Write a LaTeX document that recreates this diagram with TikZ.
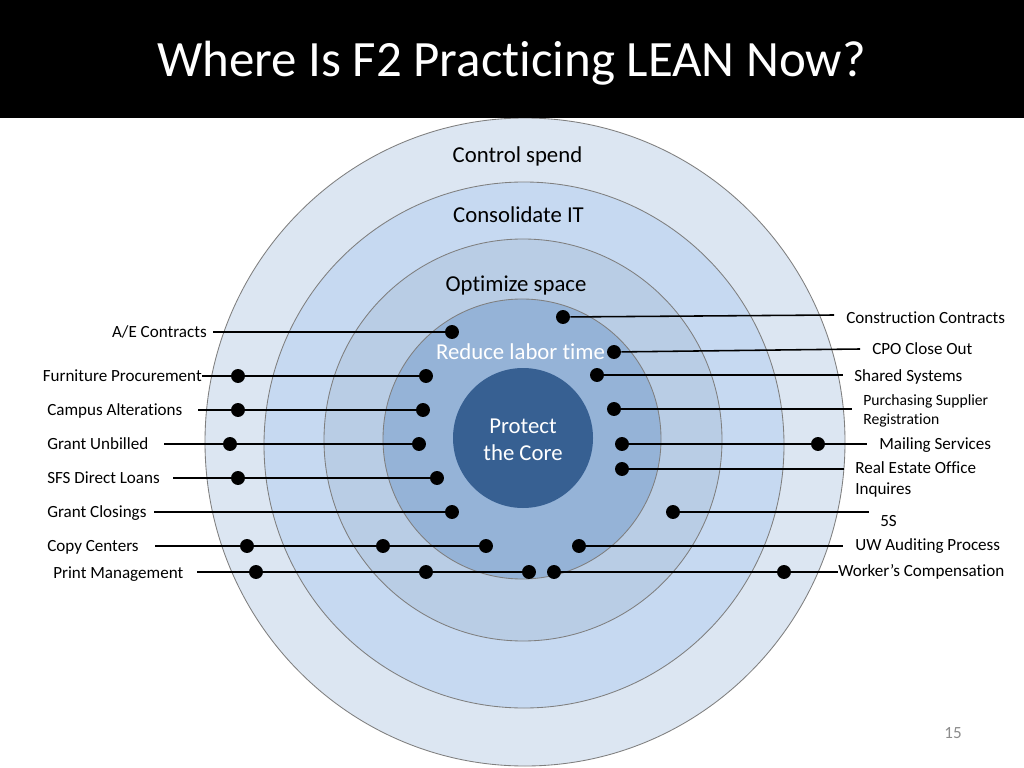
\documentclass[tikz,border=0pt]{standalone}
\usepackage{fontspec}
\setmainfont{Carlito}[Ligatures=CommonOff]
\definecolor{ringA}{HTML}{DCE6F2}
\definecolor{ringB}{HTML}{C6D9F1}
\definecolor{ringC}{HTML}{B9CDE5}
\definecolor{ringD}{HTML}{95B3D7}
\definecolor{coreC}{HTML}{376092}
\definecolor{ringLine}{HTML}{7F7F7F}
\definecolor{pageNum}{HTML}{8C8C8C}
\begin{document}
\begin{tikzpicture}[x=0.703125pt,y=-0.703125pt,
  ring/.style={draw=ringLine,line width=0.6pt},
  dot/.style={circle,fill=black,inner sep=0pt,minimum size=9.8pt},
  conn/.style={draw=black,line width=1.1pt},
  lbl/.style={inner sep=0pt,font=\fontsize{12}{14}\selectfont},
  smlbl/.style={inner sep=0pt,font=\fontsize{11}{13}\selectfont},
  ringlbl/.style={inner sep=0pt,font=\fontsize{16}{19}\selectfont},
  corelbl/.style={inner sep=0pt,font=\fontsize{16}{19}\selectfont,text=white}]
\useasboundingbox (0,0) rectangle (1024,768);
\fill[white] (0,0) rectangle (1024,768);
% rings
\draw[ring,fill=ringA] (525,442) ellipse [x radius=320,y radius=324];
\draw[ring,fill=ringB] (524,445) ellipse [x radius=260,y radius=263];
\draw[ring,fill=ringC] (523,440) ellipse [x radius=199,y radius=201];
\draw[ring,fill=ringD] (522,439) ellipse [x radius=139,y radius=140];
\fill[coreC] (523,438) circle [radius=70];
% header
\fill[black] (0,0) rectangle (1024,118);
\node[inner sep=0pt,anchor=base,text=white,font=\fontsize{35.8}{40}\selectfont] (title) at (511.5,77) {Where Is F2 Practicing LEAN Now?};
% ring labels
\node[ringlbl,anchor=base] (l1) at (517.5,163) {Control spend};
\node[ringlbl,anchor=base] (l2) at (518.5,223) {Consolidate IT};
\node[ringlbl,anchor=base] (l3) at (516,291) {Optimize space};
\node[ringlbl,anchor=base,text=white] (l4) at (520.5,359) {Reduce labor time};
\node[corelbl,anchor=base] (l5a) at (523,433) {Protect};
\node[corelbl,anchor=base] (l5b) at (523,460) {the Core};
% left labels
\node[lbl,anchor=base east] (tAE) at (207,337) {A/E Contracts};
\node[lbl,anchor=base east] (tFP) at (202,381) {Furniture Procurement};
\node[lbl,anchor=base west] (tCA) at (47,415) {Campus Alterations};
\node[lbl,anchor=base west] (tGU) at (47,449) {Grant Unbilled};
\node[lbl,anchor=base west] (tSFS) at (47,483) {SFS Direct Loans};
\node[lbl,anchor=base west] (tGC) at (47,517) {Grant Closings};
\node[lbl,anchor=base west] (tCC) at (47,551) {Copy Centers};
\node[lbl,anchor=base west] (tPM) at (53,578) {Print Management};
% right labels
\node[lbl,anchor=base west] (tCon) at (846,323) {Construction Contracts};
\node[lbl,anchor=base west] (tCPO) at (872,354) {CPO Close Out};
\node[lbl,anchor=base west] (tSS) at (854,381) {Shared Systems};
\node[smlbl,anchor=base west] (tPSa) at (863,405) {Purchasing Supplier};
\node[smlbl,anchor=base west] (tPSb) at (863,424) {Registration};
\node[lbl,anchor=base west] (tMS) at (879,449) {Mailing Services};
\node[lbl,anchor=base west] (tREa) at (855,473) {Real Estate Office};
\node[lbl,anchor=base west] (tREb) at (855,494) {Inquires};
\node[lbl,anchor=base west] (t5S) at (880,526) {5S};
\node[lbl,anchor=base west] (tUW) at (855,550) {UW Auditing Process};
\node[lbl,anchor=base west] (tWC) at (838,576) {Worker’s Compensation};
% connector free ends
\coordinate (sAE) at (213,332);
\coordinate (sFP) at (202,376);
\coordinate (sCA) at (198,410);
\coordinate (sGU) at (164,444);
\coordinate (sSFS) at (173,478);
\coordinate (sGC) at (154,512);
\coordinate (sCC) at (155,546);
\coordinate (sPM) at (197,572);
\coordinate (eCon) at (834,315);
\coordinate (eCPO) at (860,349);
\coordinate (eSS) at (843,375);
\coordinate (ePS) at (852,409);
\coordinate (eMS) at (867,444);
\coordinate (eRE) at (844,469);
\coordinate (e5S) at (869,512);
\coordinate (eUW) at (843,546);
\coordinate (eWC) at (838,572);
% dots
\node[dot] (dAE) at (452,332) {};
\node[dot] (dFP1) at (238,376) {};
\node[dot] (dFP2) at (426,376) {};
\node[dot] (dCA1) at (238,410) {};
\node[dot] (dCA2) at (423,410) {};
\node[dot] (dGU1) at (230,444) {};
\node[dot] (dGU2) at (419,444) {};
\node[dot] (dSFS1) at (238,478) {};
\node[dot] (dSFS2) at (437,478) {};
\node[dot] (dGC) at (452,512) {};
\node[dot] (dCC1) at (247,546) {};
\node[dot] (dCC2) at (383,546) {};
\node[dot] (dCC3) at (486,546) {};
\node[dot] (dPM1) at (256,572) {};
\node[dot] (dPM2) at (426,572) {};
\node[dot] (dPM3) at (529,572) {};
\node[dot] (dCon) at (563,317) {};
\node[dot] (dCPO) at (614,352) {};
\node[dot] (dSS) at (597,375) {};
\node[dot] (dPS) at (614,409) {};
\node[dot] (dMS1) at (622,444) {};
\node[dot] (dMS2) at (818,444) {};
\node[dot] (dRE) at (622,469) {};
\node[dot] (d5S) at (673,512) {};
\node[dot] (dUW) at (579,546) {};
\node[dot] (dWC1) at (554,572) {};
\node[dot] (dWC2) at (784,572) {};
% connectors
\draw[conn] (sAE) -- (dAE);
\draw[conn] (sFP) -- (dFP1) -- (dFP2);
\draw[conn] (sCA) -- (dCA1) -- (dCA2);
\draw[conn] (sGU) -- (dGU1) -- (dGU2);
\draw[conn] (sSFS) -- (dSFS1) -- (dSFS2);
\draw[conn] (sGC) -- (dGC);
\draw[conn] (sCC) -- (dCC1) -- (dCC2) -- (dCC3);
\draw[conn] (sPM) -- (dPM1) -- (dPM2) -- (dPM3);
\draw[conn] (dCon) -- (eCon);
\draw[conn] (dCPO) -- (eCPO);
\draw[conn] (dSS) -- (eSS);
\draw[conn] (dPS) -- (ePS);
\draw[conn] (dMS1) -- (dMS2) -- (eMS);
\draw[conn] (dRE) -- (eRE);
\draw[conn] (d5S) -- (e5S);
\draw[conn] (dUW) -- (eUW);
\draw[conn] (dWC1) -- (dWC2) -- (eWC);
% page number
\node[inner sep=0pt,text=pageNum,font=\fontsize{12}{14}\selectfont] (pg) at (953,733) {15};
\end{tikzpicture}
\end{document}
